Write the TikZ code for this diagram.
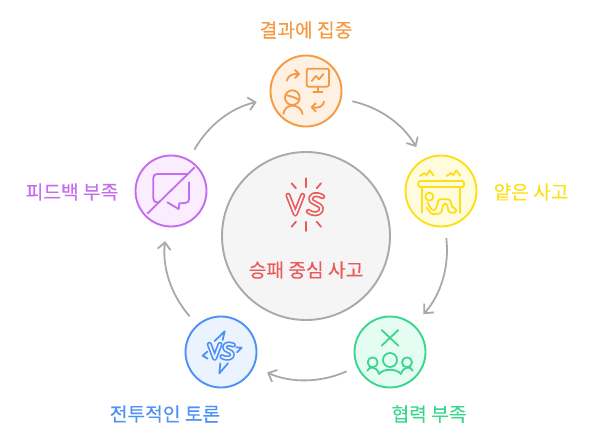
\documentclass[tikz,border=0pt]{standalone}
\usepackage{fontspec}
\setmainfont[FakeBold=0.25]{Noto Sans CJK KR}
\usetikzlibrary{arrows.meta}
\definecolor{orangeline}{HTML}{F59A42}
\definecolor{orangefill}{HTML}{FEF0E3}
\definecolor{yellowline}{HTML}{FBE018}
\definecolor{yellowfill}{HTML}{FFFBDD}
\definecolor{greenline}{HTML}{3BD68E}
\definecolor{greenfill}{HTML}{E4FCF1}
\definecolor{blueline}{HTML}{4E90F8}
\definecolor{bluefill}{HTML}{EBF3FE}
\definecolor{purpleline}{HTML}{C56CF0}
\definecolor{purplefill}{HTML}{F9EDFE}
\definecolor{redline}{HTML}{EA5A5A}
\definecolor{greyline}{HTML}{A9A9A9}
\tikzset{
  stage/.style={circle, draw=#1line, fill=#1fill, line width=1.9pt, minimum size=71pt, inner sep=0pt},
  label/.style={text=#1line, font=\fontsize{19.2}{21}\selectfont},
  flow/.style={draw=greyline, line width=1.8pt, -{Straight Barb[length=7pt,width=13pt]}, bend left=24, shorten >=14pt, shorten <=11pt},
  icon/.style={line width=1.8pt, line cap=round, line join=round},
  zoomed/.style 2 args={shift={(#1,#2)}, x=.3333pt, y=-.3333pt},
  vsmark/.style={line width=1.7pt, line cap=round, line join=round, draw=#1line, double distance=1.8pt}
}
\begin{document}
\begin{tikzpicture}
  [x=1pt, y=-1pt]
  \useasboundingbox (0,0) rectangle (600,445);

  \node [name=core, circle, draw=greyline, fill=black!4, line width=1.9pt, minimum size=168pt, inner sep=0pt] at (306,236) {};
  \node [name=result, stage=orange] at (306,91) {};
  \node [name=shallow, stage=yellow] at (441,191) {};
  \node [name=teamwork, stage=green] at (390,352) {};
  \node [name=debate, stage=blue] at (221,352) {};
  \node [name=feedback, stage=purple] at (171,191) {};

  \node [name=coretext, label=red] at (306,270) {승패 중심 사고};
  \node [name=resulttext, label=orange] at (306,30) {결과에 집중};
  \node [name=shallowtext, label=yellow] at (531,192) {얕은 사고};
  \node [name=teamworktext, label=green] at (429,414) {협력 부족};
  \node [name=debatetext, label=blue] at (165,414) {전투적인 토론};
  \node [name=feedbacktext, label=purple] at (72,192) {피드백 부족};

  \path (result) edge [flow] (shallow)
        (shallow) edge [flow] (teamwork)
        (teamwork) edge [flow] (debate)
        (debate) edge [flow] (feedback)
        (feedback) edge [flow] (result);

  % result icon
  \begin{scope}[zoomed={250}{10}, icon, draw=orangeline]
    \draw [rounded corners=2pt] (170,176) rectangle (237,230);
    \draw (203,230) -- (203,246) (190,247) -- (217,247);
    \draw (185,213) -- (198,198) -- (207,208) -- (220,192);
    \draw (110,212) .. controls (115,195) and (130,190) .. (147,192);
    \draw (135,180) -- (147,192) -- (135,204);
    \draw (127,263) circle [radius=22];
    \draw (107,255) .. controls (120,258) and (135,262) .. (148,270);
    \draw (100,312) .. controls (103,295) and (115,287) .. (127,287) .. controls (140,287) and (155,295) .. (158,312);
    \draw (222,275) .. controls (220,290) and (205,296) .. (185,292);
    \draw (197,280) -- (185,292) -- (197,304);
  \end{scope}

  % shallow icon
  \begin{scope}[zoomed={395}{145}, icon, draw=yellowline]
    \draw [rounded corners=1.5pt] (70,108) rectangle (207,126);
    \draw (80,126) -- (80,203) (195,126) -- (195,203);
    \draw (75,93) -- (88,84) -- (95,90) -- (104,76) -- (116,92);
    \draw (155,93) -- (168,84) -- (175,90) -- (184,76) -- (196,92);
    \draw (103,155) circle [radius=12];
    \draw [rounded corners=1.5pt] (97,172) -- (112,197) -- (122,194) -- (131,163) -- (165,163) -- (172,188) -- (183,190) -- (183,203) -- (162,203) -- (155,176) -- (146,176) -- (138,205) -- (110,208) -- (95,188);
  \end{scope}

  % teamwork icon
  \begin{scope}[zoomed={345}{305}, icon, draw=greenline]
    \draw (110,75) -- (160,122) (160,75) -- (110,122);
    \draw (135,165) circle [radius=21];
    \draw (83,172) circle [radius=15];
    \draw (186,172) circle [radius=15];
    \draw (67,197) .. controls (72,183) and (95,183) .. (102,207);
    \draw (102,207) .. controls (115,190) and (155,190) .. (168,207);
    \draw (168,207) .. controls (175,183) and (198,183) .. (203,197);
  \end{scope}

  % debate icon
  \begin{scope}[zoomed={176}{305}, icon, draw=blueline]
    \draw (116,108) -- (146,79) -- (140,105);
    \draw (133,175) -- (130,205) -- (156,175);
    \draw (94,140) -- (80,152) -- (95,161);
    \draw (181,127) -- (197,128) -- (183,142);
    \draw [vsmark=blue, double=bluefill] (100,118) -- (116,160) -- (132,118);
    \draw [vsmark=blue, double=bluefill] (172,120) .. controls (155,112) and (140,120) .. (148,133) .. controls (160,140) and (175,142) .. (167,155) .. controls (160,162) and (145,160) .. (138,155);
  \end{scope}

  % feedback icon
  \begin{scope}[zoomed={125}{145}, icon, draw=purpleline]
    \draw (185,87) -- (97,87) .. controls (89,87) and (85,91) .. (85,99) -- (85,160) .. controls (85,168) and (89,172) .. (97,172) -- (100,172);
    \draw (192,112) -- (192,160) .. controls (192,170) and (188,174) .. (180,174) -- (163,175) -- (161,192) -- (127,172);
    \draw (68,205) -- (208,68);
  \end{scope}

  % core icon
  \begin{scope}[zoomed={260}{170}, icon, draw=redline]
    \draw (138,25) -- (138,52) (95,40) -- (108,55) (183,40) -- (170,55);
    \draw (138,155) -- (138,183) (108,155) -- (95,170) (170,155) -- (183,170);
    \draw [vsmark=red, double=black!4] (84,76) -- (106,132) -- (128,76);
    \draw [vsmark=red, double=black!4] (188,80) .. controls (165,66) and (145,78) .. (155,94) .. controls (170,104) and (190,106) .. (183,122) .. controls (175,136) and (155,132) .. (145,124);
  \end{scope}
\end{tikzpicture}
\end{document}
